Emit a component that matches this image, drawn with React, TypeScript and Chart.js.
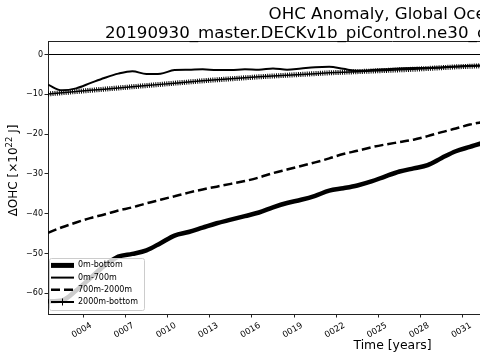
import React, { useEffect, useRef } from "react";
import { Chart, registerables } from "chart.js";

Chart.register(...registerables);

// ---- data ----
const years = [
  1.5, 2.5, 3.5, 4.5, 5.5, 6.5, 7.5, 8.5, 9.5, 10.5, 11.5, 12.5, 13.5, 14.5, 15.5, 16.5,
  17.5, 18.5, 19.5, 20.5, 21.5, 22.5, 23.5, 24.5, 25.5, 26.5, 27.5, 28.5, 29.5, 30.5, 31.5,
  32.5, 33.5,
];
const ohc0mBottom = [
  -62.0, -61.8, -59.3, -56.2, -53.1, -50.8, -50.1, -49.2, -47.4, -45.5, -44.6, -43.5, -42.4,
  -41.5, -40.6, -39.7, -38.4, -37.3, -36.5, -35.5, -34.2, -33.6, -32.9, -31.9, -30.6, -29.4,
  -28.6, -27.8, -26.0, -24.3, -23.2, -22.1, -21.2,
];
const ohc0m700m = [
  -7.6, -9.0, -8.5, -7.2, -5.9, -4.8, -4.2, -4.9, -4.8, -3.9, -3.8, -3.7, -3.9, -3.9, -3.7,
  -3.8, -3.5, -3.8, -3.5, -3.2, -3.1, -3.6, -4.1, -3.9, -3.7, -3.5, -3.4, -3.4, -3.2, -3.0,
  -2.8, -2.7, -2.6,
];
const ohc700m2000m = [
  -44.8, -43.4, -42.2, -41.1, -40.2, -39.2, -38.4, -37.4, -36.5, -35.6, -34.7, -33.9, -33.2,
  -32.5, -31.8, -30.9, -29.8, -28.9, -28.0, -27.1, -26.1, -25.0, -24.2, -23.3, -22.6, -22.0,
  -21.4, -20.5, -19.5, -18.6, -17.6, -16.9, -16.2,
];
const ohc2000mBottom = [
  -9.9, -9.6, -9.3, -9.0, -8.7, -8.4, -8.1, -7.8, -7.5, -7.2, -6.9, -6.6, -6.35, -6.1, -5.85,
  -5.6, -5.4, -5.2, -5.0, -4.8, -4.6, -4.45, -4.3, -4.15, -4.0, -3.85, -3.7, -3.5, -3.3, -3.1,
  -2.95, -2.8, -2.65,
];
const seriesLabels = ["0m-bottom", "0m-700m", "700m-2000m", "2000m-bottom"];
const xTickYears = [4, 7, 10, 13, 16, 19, 22, 25, 28, 31, 34, 37, 40, 43, 46, 49];
const yTickValues = [-60, -50, -40, -30, -20, -10, 0];
const titleLine1 = "OHC Anomaly, Global Ocean";
const titleLine2 = "20190930_master.DECKv1b_piControl.ne30_oECv3_ICG.cori-knl";
const xAxisTitle = "Time [years]";
const yAxisTitleMain = "ΔOHC [×10";
const yAxisTitleSup = "22";
const yAxisTitleEnd = " J]";

const FONT = "DejaVu Sans";

const toPoints = (vals: number[]) => vals.map((v, i) => ({ x: years[i], y: v }));

const decorPlugin = {
  id: "decor",
  afterDatasetDraw(chart: any, args: any) {
    if (args.index !== 3) return;
    const { ctx, chartArea: a } = chart;
    const meta = chart.getDatasetMeta(3);
    ctx.save();
    ctx.beginPath();
    ctx.rect(a.left, a.top, a.right - a.left, a.bottom - a.top);
    ctx.clip();
    ctx.beginPath();
    meta.data.forEach((p: any, i: number) => (i ? ctx.lineTo(p.x, p.y) : ctx.moveTo(p.x, p.y)));
    ctx.setLineDash([1, 1.2]);
    ctx.lineWidth = 5;
    ctx.strokeStyle = "#000";
    ctx.stroke();
    ctx.restore();
  },
  afterDraw(chart: any) {
    const { ctx, chartArea: a } = chart;
    ctx.save();
    // top spine
    ctx.strokeStyle = "#222";
    ctx.lineWidth = 1;
    ctx.beginPath();
    ctx.moveTo(a.left, Math.round(a.top) + 0.5);
    ctx.lineTo(a.right, Math.round(a.top) + 0.5);
    ctx.stroke();

    // titles
    const cx = (a.left + a.right) / 2;
    ctx.fillStyle = "#000";
    ctx.font = `16.67px "${FONT}"`;
    ctx.textBaseline = "alphabetic";
    ctx.textAlign = "center";
    ctx.fillText(titleLine1, cx - 5, 19);
    ctx.textAlign = "left";
    ctx.fillText(titleLine2, cx - 287.5, 37.5);

    // y axis title with superscript
    const cy = (a.top + a.bottom) / 2 - 7;
    ctx.save();
    ctx.translate(14, cy);
    ctx.rotate(-Math.PI / 2);
    const mainFont = `12px "${FONT}"`;
    const supFont = `8.5px "${FONT}"`;
    ctx.font = mainFont;
    const w1 = ctx.measureText(yAxisTitleMain).width;
    const w3 = ctx.measureText(yAxisTitleEnd).width;
    ctx.font = supFont;
    const w2 = ctx.measureText(yAxisTitleSup).width;
    const total = w1 + w2 + w3;
    let x = -total / 2;
    ctx.textBaseline = "middle";
    ctx.textAlign = "left";
    ctx.font = mainFont;
    ctx.fillText(yAxisTitleMain, x, 0);
    x += w1;
    ctx.font = supFont;
    ctx.fillText(yAxisTitleSup, x, -4.5);
    x += w2;
    ctx.font = mainFont;
    ctx.fillText(yAxisTitleEnd, x, 0);
    ctx.restore();

    // legend (inside, lower left)
    const bx = a.left + 1;
    const by = a.bottom - 56;
    const bw = 95;
    const bh = 52;
    ctx.fillStyle = "rgba(255,255,255,0.8)";
    ctx.strokeStyle = "#cccccc";
    ctx.lineWidth = 1;
    ctx.beginPath();
    if (ctx.roundRect) ctx.roundRect(bx + 0.5, by + 0.5, bw, bh, 2);
    else ctx.rect(bx + 0.5, by + 0.5, bw, bh);
    ctx.fill();
    ctx.stroke();
    const ds = chart.data.datasets;
    ds.forEach((d: any, i: number) => {
      const ry = a.bottom - 12 - (ds.length - 1 - i) * 12.2;
      ctx.save();
      ctx.strokeStyle = "#000";
      ctx.lineWidth = i === 0 ? 5 : i === 3 ? 2 : d.borderWidth;
      ctx.setLineDash(d.borderDash || []);
      ctx.beginPath();
      ctx.moveTo(bx + 2, ry);
      ctx.lineTo(bx + 25, ry);
      ctx.stroke();
      if (i === 3) {
        ctx.setLineDash([]);
        ctx.lineWidth = 1;
        ctx.beginPath();
        ctx.moveTo(bx + 13.5, ry - 3.5);
        ctx.lineTo(bx + 13.5, ry + 3.5);
        ctx.moveTo(bx + 10, ry);
        ctx.lineTo(bx + 17, ry);
        ctx.stroke();
      }
      ctx.restore();
      ctx.fillStyle = "#000";
      ctx.font = `8px "${FONT}"`;
      ctx.textAlign = "left";
      ctx.textBaseline = "middle";
      ctx.fillText(d.label, bx + 29, ry);
    });
    ctx.restore();
  },
};

export default function App() {
  const ref = useRef<HTMLCanvasElement | null>(null);

  useEffect(() => {
    if (!ref.current) return;
    const chart = new Chart(ref.current, {
      type: "line",
      data: {
        datasets: [
          {
            label: seriesLabels[0],
            data: toPoints(ohc0mBottom),
            borderColor: "#000",
            borderWidth: 4.5,
            pointRadius: 0,
            cubicInterpolationMode: "monotone",
          },
          {
            label: seriesLabels[1],
            data: toPoints(ohc0m700m),
            borderColor: "#000",
            borderWidth: 2,
            pointRadius: 0,
            cubicInterpolationMode: "monotone",
          },
          {
            label: seriesLabels[2],
            data: toPoints(ohc700m2000m),
            borderColor: "#000",
            borderWidth: 2.5,
            borderDash: [9, 4],
            pointRadius: 0,
            cubicInterpolationMode: "monotone",
          },
          {
            label: seriesLabels[3],
            data: toPoints(ohc2000mBottom),
            borderColor: "#000",
            borderWidth: 1.5,
            pointRadius: 0,
          },
        ],
      },
      options: {
        responsive: false,
        animation: false,
        devicePixelRatio: 1,
        layout: { padding: { top: 41, right: 47, left: 0, bottom: 0 } },
        plugins: {
          legend: { display: false },
          title: { display: false },
          tooltip: { enabled: false },
        },
        scales: {
          x: {
            type: "linear",
            min: 1.5,
            max: 50.5,
            afterBuildTicks: (s: any) => {
              s.ticks = xTickYears.map((v) => ({ value: v }));
            },
            afterFit: (s: any) => {
              s.height = 46;
            },
            ticks: {
              autoSkip: false,
              minRotation: 30,
              maxRotation: 30,
              labelOffset: 8,
              padding: 3,
              color: "#000",
              font: { family: FONT, size: 8.5 },
              callback: (v: any) => String(v).padStart(4, "0"),
            },
            grid: {
              drawOnChartArea: false,
              drawTicks: true,
              tickLength: 3.5,
              tickColor: "#222",
            },
            border: { display: true, color: "#222", width: 1 },
            title: {
              display: true,
              text: xAxisTitle,
              color: "#000",
              font: { family: FONT, size: 12.4 },
              padding: { top: 0, bottom: 7 },
            },
          },
          y: {
            type: "linear",
            min: -65.2,
            max: 3.4,
            afterBuildTicks: (s: any) => {
              s.ticks = yTickValues.map((v) => ({ value: v }));
            },
            afterFit: (s: any) => {
              s.width = 48;
            },
            ticks: {
              padding: 1.5,
              color: "#000",
              font: { family: FONT, size: 8 },
              callback: (v: any) => (v < 0 ? "\u2212" + Math.abs(v) : String(v)),
            },
            grid: {
              color: (c: any) => (c.tick && c.tick.value === 0 ? "#000" : "rgba(0,0,0,0)"),
              lineWidth: 1,
              tickColor: "#222",
              tickLength: 3.5,
            },
            border: { display: true, color: "#222", width: 1 },
          },
        },
      },
      plugins: [decorPlugin],
    });
    return () => chart.destroy();
  }, []);

  return (
    <div
      style={{
        position: "fixed",
        left: 0,
        top: 0,
        width: 480,
        height: 360,
        overflow: "hidden",
        background: "#fff",
      }}
    >
      <canvas ref={ref} width={784} height={360} style={{ display: "block", width: 784, height: 360 }} />
    </div>
  );
}
